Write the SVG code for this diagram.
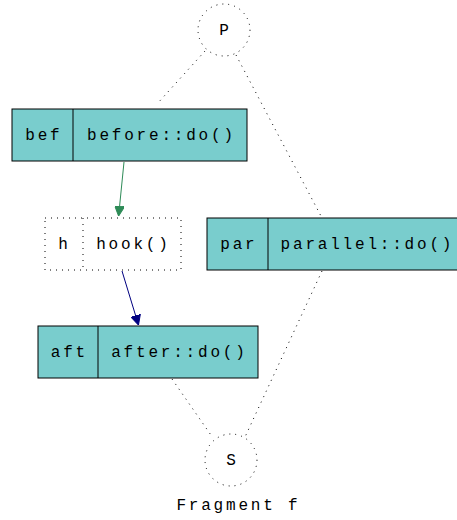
<svg xmlns="http://www.w3.org/2000/svg" width="457" height="520" viewBox="0 0 457 520">
<style>
text{font-family:"Liberation Mono","DejaVu Sans Mono",monospace;font-size:16px;text-anchor:middle;fill:#000;letter-spacing:2.8px}
.box{fill:#79cdcd;stroke:#000;stroke-width:1}
.dot{fill:none;stroke:#000;stroke-width:1;stroke-dasharray:1,5}
.dl{stroke:#000;stroke-width:1;stroke-dasharray:1,5;fill:none}
</style>
<defs>
<marker id="ag" viewBox="0 0 10 10" refX="10" refY="5" markerWidth="10" markerHeight="10" markerUnits="userSpaceOnUse" orient="auto"><path d="M0,0L10,5L0,10z" fill="#2e8b57" stroke="#2e8b57"/></marker>
<marker id="an" viewBox="0 0 10 10" refX="10" refY="5" markerWidth="10" markerHeight="10" markerUnits="userSpaceOnUse" orient="auto"><path d="M0,0L10,5L0,10z" fill="#000080" stroke="#000080"/></marker>
</defs>
<g id="connectors">
<path class="dl" d="M205,51L157,104"/>
<path class="dl" d="M236,55L322,218"/>
<path d="M124,162L118.6,216" stroke="#2e8b57" fill="none" marker-end="url(#ag)"/>
<path d="M122,271L138.5,325" stroke="#000080" fill="none" marker-end="url(#an)"/>
<path class="dl" d="M172,379L213,438"/>
<path class="dl" d="M322,271L245,437"/>
</g>
<g id="P">
<circle class="dot" cx="224" cy="30" r="26"/>
<text x="225.4" y="35">P</text>
</g>
<g id="bef">
<rect class="box" x="12" y="109" width="235" height="52"/>
<line x1="73" y1="109" x2="73" y2="161" stroke="#000"/>
<text x="43.9" y="140">bef</text>
<text x="161.4" y="140">before::do()</text>
</g>
<g id="hook">
<rect class="dot" x="45" y="218" width="136" height="52"/>
<line class="dl" x1="83" y1="218" x2="83" y2="270"/>
<text x="64.4" y="249">h</text>
<text x="133.4" y="249">hook()</text>
</g>
<g id="par">
<rect class="box" x="207" y="218" width="252" height="52"/>
<line x1="268" y1="218" x2="268" y2="270" stroke="#000"/>
<text x="238.9" y="249">par</text>
<text x="367.4" y="249">parallel::do()</text>
</g>
<g id="aft">
<rect class="box" x="38" y="326" width="220" height="52"/>
<line x1="98" y1="326" x2="98" y2="378" stroke="#000"/>
<text x="69.4" y="357">aft</text>
<text x="179.4" y="357">after::do()</text>
</g>
<g id="S">
<circle class="dot" cx="231" cy="460" r="26"/>
<text x="232.4" y="465">S</text>
</g>
<text x="238.4" y="510">Fragment f</text>
</svg>
